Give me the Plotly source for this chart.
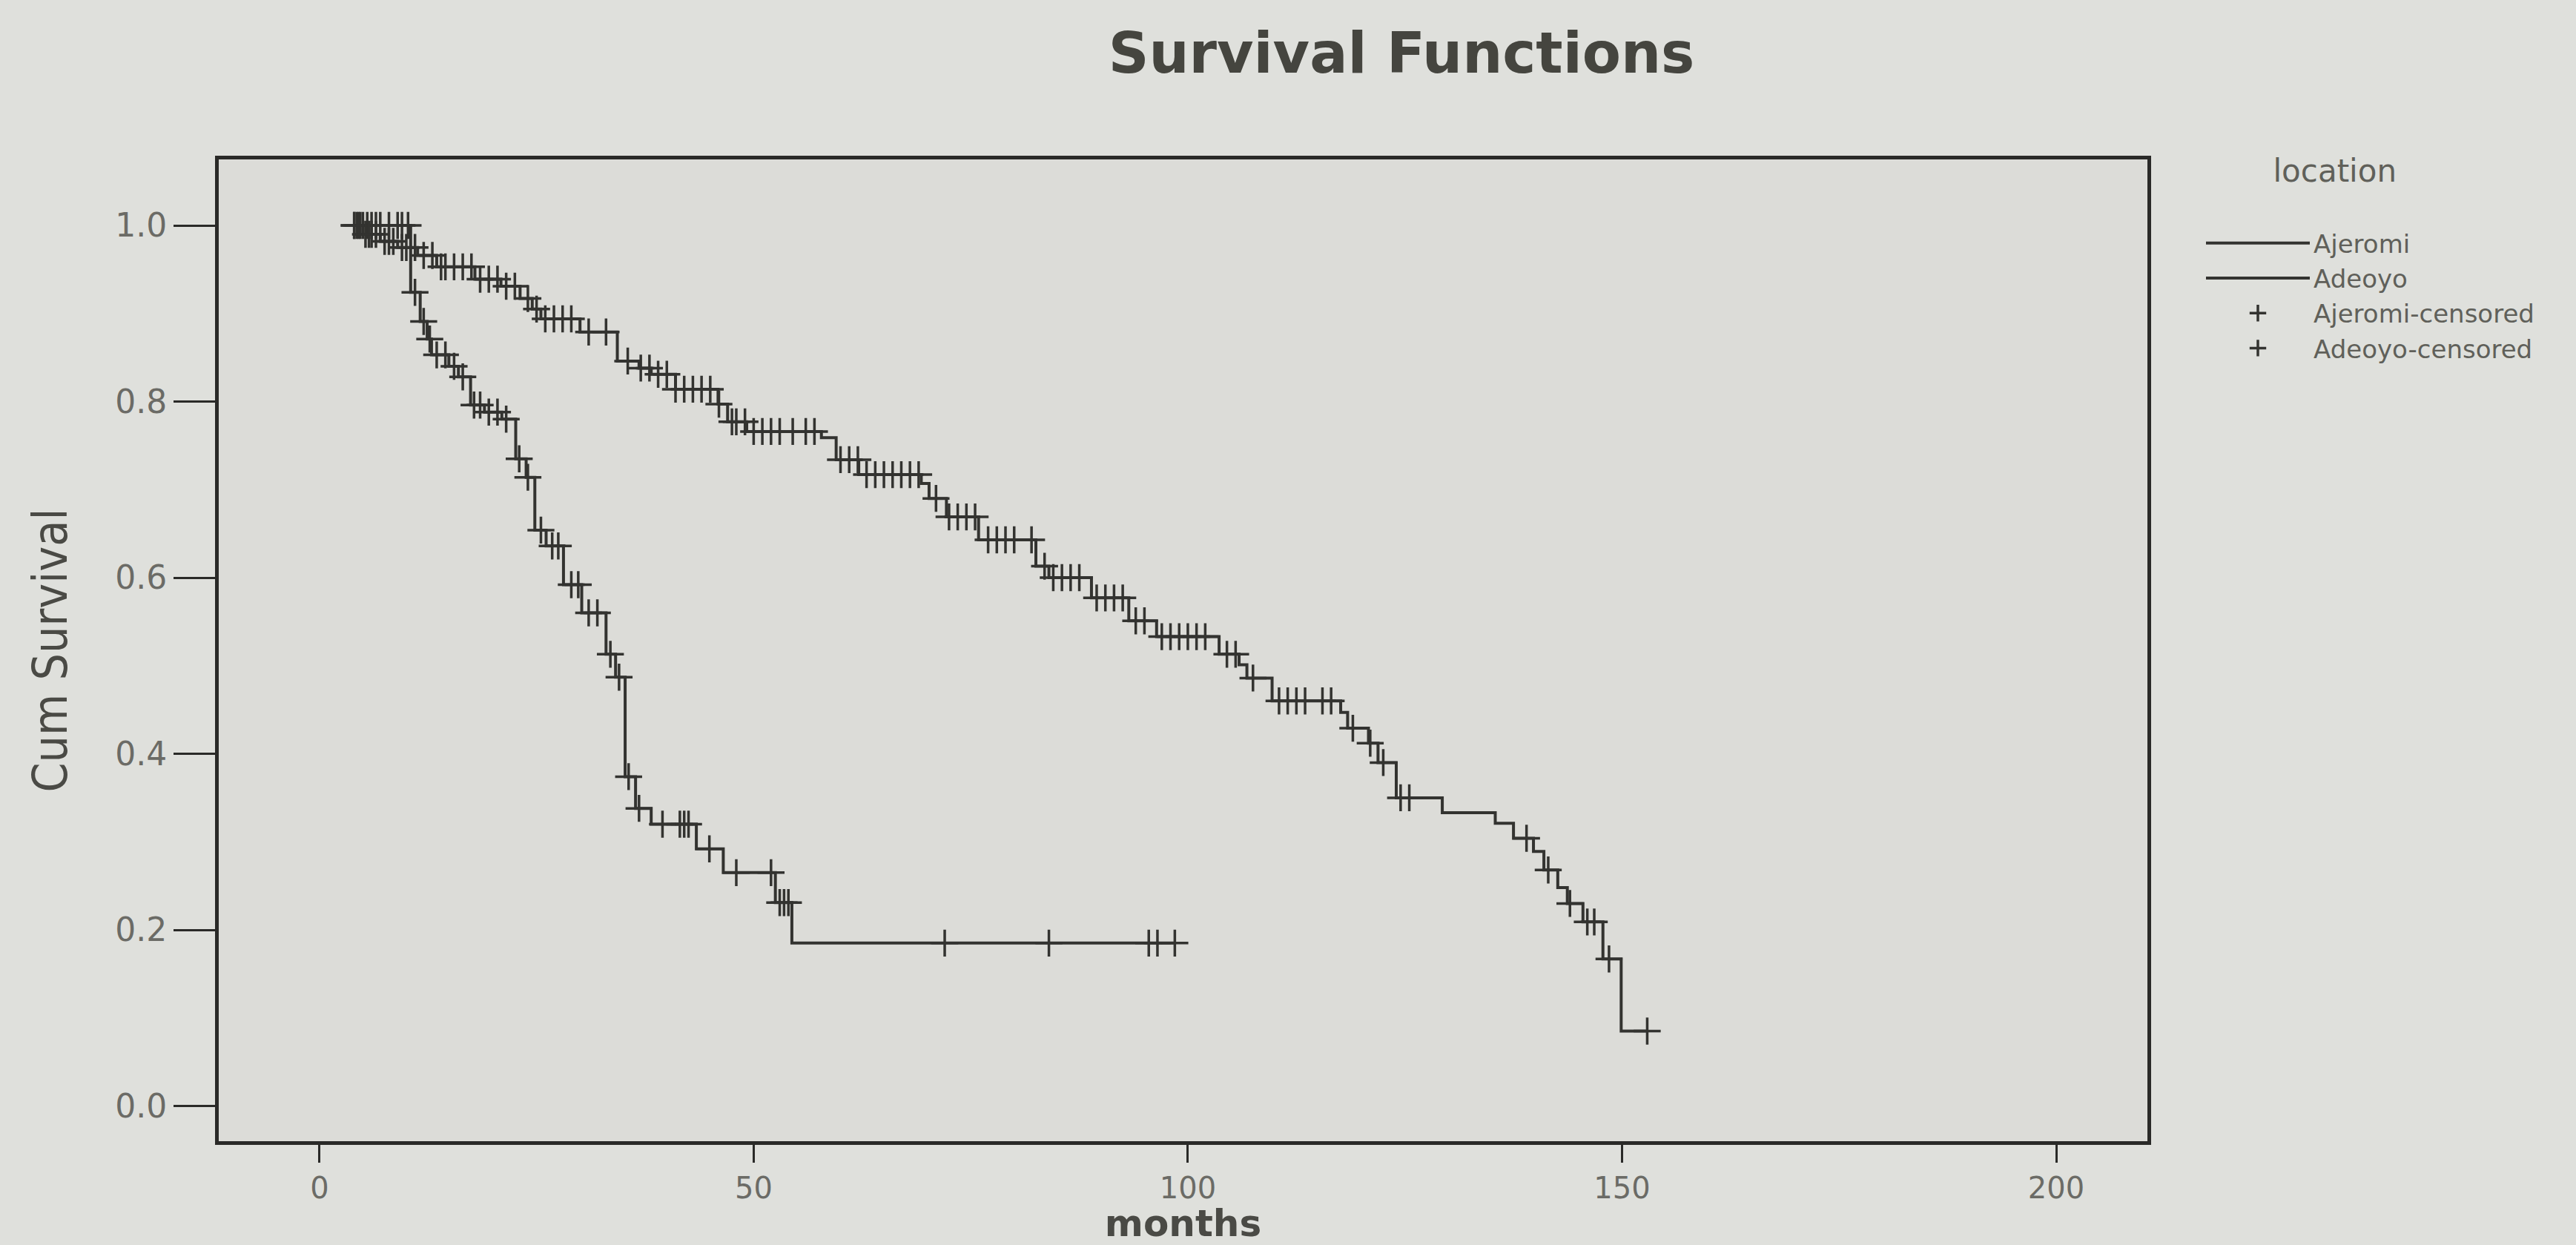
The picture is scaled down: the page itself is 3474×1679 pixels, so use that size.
import numpy as np
import plotly.graph_objects as go

# ---------------- data ----------------
group_names = ["Ajeromi", "Adeoyo"]
legend_title = "location"
chart_title = "Survival Functions"
x_label = "months"
y_label = "Cum Survival"
x_ticks = [0, 50, 100, 150, 200]
y_ticks = [0.0, 0.2, 0.4, 0.6, 0.8, 1.0]
y_tick_text = ["0.0", "0.2", "0.4", "0.6", "0.8", "1.0"]

# Ajeromi: steep curve
aj_start = 3.9
aj_event_t = [10.5, 11.6, 12.4, 12.9, 14.9, 16.0, 17.4, 19.0, 21.0, 22.6, 23.8,
              24.8, 26.1, 28.1, 30.2, 33.0, 34.1, 35.2, 36.4, 38.2, 43.4, 46.5,
              52.5, 54.4]
aj_event_s = [0.924, 0.891, 0.871, 0.853, 0.840, 0.828, 0.796, 0.788, 0.780,
              0.735, 0.714, 0.654, 0.636, 0.592, 0.560, 0.513, 0.487, 0.374,
              0.338, 0.320, 0.292, 0.265, 0.231, 0.185]
aj_censor_t = [4.0, 4.5, 5.0, 5.5, 6.0, 6.5, 7.0, 8.0, 9.0, 9.5, 10.2, 11.0,
               12.0, 12.7, 13.5, 14.5, 15.5, 16.5, 17.8, 18.5, 19.5, 20.5, 21.5,
               23.0, 24.0, 25.5, 26.8, 27.5, 29.0, 29.8, 31.0, 32.0, 33.5, 34.5,
               35.6, 36.8, 39.5, 41.5, 42.0, 42.5, 44.9, 48.0, 52.0, 53.0, 53.5,
               54.0, 72.0, 84.0, 95.5, 96.5, 98.5]

# Adeoyo: long curve
ad_start = 3.9
ad_event_t = [5.0, 7.0, 9.0, 11.3, 13.5, 17.9, 20.9, 23.1, 24.5, 25.5, 30.0,
              34.3, 36.8, 38.2, 41.0, 45.9, 47.0, 49.2, 57.8, 59.5, 62.1, 69.3,
              70.2, 72.2, 75.9, 82.5, 84.0, 88.9, 93.2, 96.4, 103.6, 105.9,
              106.8, 109.7, 117.6, 118.4, 120.8, 121.9, 124.0, 129.3, 135.4,
              137.5, 139.8, 141.0, 142.6, 143.7, 145.5, 147.8, 149.9]
ad_event_s = [0.990, 0.982, 0.975, 0.966, 0.953, 0.939, 0.931, 0.917, 0.905,
              0.894, 0.879, 0.846, 0.838, 0.831, 0.814, 0.797, 0.777, 0.766,
              0.759, 0.734, 0.717, 0.707, 0.690, 0.669, 0.643, 0.613, 0.600,
              0.577, 0.551, 0.533, 0.513, 0.501, 0.486, 0.460, 0.447, 0.429,
              0.412, 0.390, 0.350, 0.333, 0.321, 0.304, 0.289, 0.268, 0.248,
              0.230, 0.209, 0.167, 0.085]
ad_censor_t = [4.0, 4.3, 4.7, 5.3, 5.7, 6.0, 6.5, 7.5, 8.0, 8.5, 9.5, 10.0,
               11.0, 12.0, 13.0, 14.0, 14.5, 15.5, 16.5, 17.5, 18.5, 19.5, 20.5,
               21.5, 22.5, 24.0, 25.0, 26.0, 27.0, 28.0, 29.0, 31.0, 33.0, 35.5,
               37.0, 38.0, 39.0, 40.0, 41.0, 42.0, 43.0, 44.0, 45.0, 46.0, 47.5,
               48.0, 49.0, 50.0, 51.0, 52.0, 53.0, 54.5, 56.0, 57.0, 60.0, 61.0,
               62.0, 63.0, 64.0, 65.0, 66.0, 67.0, 68.0, 69.0, 71.0, 72.5, 73.5,
               74.5, 75.5, 77.0, 78.0, 79.0, 80.0, 82.0, 83.5, 84.5, 85.5, 86.5,
               87.5, 89.5, 90.5, 91.5, 92.5, 94.0, 95.0, 97.0, 98.0, 99.0, 100.0,
               101.0, 102.0, 104.5, 105.5, 107.5, 110.5, 111.5, 112.5, 113.5,
               115.5, 116.5, 119.0, 121.0, 122.5, 124.5, 125.5, 139.0, 141.5,
               144.0, 146.0, 146.8, 148.5, 152.9]

# ---------------- helpers ----------------
def step_curve(start, ev_t, ev_s, censor_t):
    t_end = max(max(censor_t), ev_t[-1])
    xs = [start] + list(ev_t) + [t_end]
    ys = [1.0] + list(ev_s) + [ev_s[-1]]
    return xs, ys


def censor_y(ev_t, ev_s, censor_t):
    ev_t = np.asarray(ev_t)
    ev_s = np.asarray(ev_s)
    idx = np.searchsorted(ev_t, np.asarray(censor_t), side="right") - 1
    return np.where(idx >= 0, ev_s[np.clip(idx, 0, None)], 1.0)


line_col = "#333330"
fig = go.Figure()

curves = [
    (group_names[0], aj_start, aj_event_t, aj_event_s, aj_censor_t),
    (group_names[1], ad_start, ad_event_t, ad_event_s, ad_censor_t),
]
for name, st, et, es, ct in curves:
    xs, ys = step_curve(st, et, es, ct)
    fig.add_trace(go.Scatter(x=xs, y=ys, mode="lines", name=name,
                             line=dict(color=line_col, width=4, shape="hv")))
for name, st, et, es, ct in curves:
    fig.add_trace(go.Scatter(x=ct, y=censor_y(et, es, ct), mode="markers",
                             name=name + "-censored",
                             marker=dict(symbol="cross-thin", size=26,
                                         line=dict(color=line_col, width=3.5),
                                         color=line_col)))

axis_common = dict(showline=True, linecolor="#2a2a28", linewidth=5, mirror=True,
                   ticks="outside", tickcolor="#2a2a28", tickwidth=3,
                   showgrid=False, zeroline=False, automargin=False)

fig.update_layout(
    width=3474, height=1679,
    paper_bgcolor="#dfe0dc", plot_bgcolor="#dcdcd8",
    margin=dict(l=295, r=578, t=215, b=140, autoexpand=False),
    title=dict(text="<b>" + chart_title + "</b>", x=1890 / 3474, xanchor="center",
               xref="container", y=1 - 71 / 1679, yref="container", yanchor="middle",
               font=dict(family="DejaVu Sans, sans-serif", size=76,
                         color="#45453f")),
    xaxis=dict(range=[-11.6, 210.5], tickvals=x_ticks, ticklen=24,
               tickfont=dict(family="DejaVu Sans, sans-serif", size=40, color="#6b6b66"),
               title=dict(text="<b>" + x_label + "</b>", standoff=6,
                          font=dict(family="DejaVu Sans, sans-serif",
                                    size=50, color="#4a4a45")),
               **axis_common),
    yaxis=dict(range=[-0.04, 1.075], tickvals=y_ticks, ticktext=y_tick_text,
               ticklen=56,
               tickfont=dict(family="DejaVu Sans, sans-serif", size=44, color="#6b6b66"),
               title=dict(text=y_label, standoff=45,
                          font=dict(family="Liberation Sans Narrow, DejaVu Sans Condensed, sans-serif",
                                    size=64, color="#4a4a45")),
               **axis_common),
    legend=dict(xref="container", yref="container", x=2970 / 3474, xanchor="left",
                y=1 - 190 / 1679, yanchor="top", bgcolor="rgba(0,0,0,0)",
                itemwidth=140, tracegroupgap=0,
                title=dict(text="       " + legend_title + "<br> ",
                           font=dict(family="DejaVu Sans, sans-serif",
                                     size=42, color="#60605a")),
                font=dict(family="DejaVu Sans, sans-serif", size=34, color="#60605a")),
    showlegend=True,
)

fig.write_html("out.html")
